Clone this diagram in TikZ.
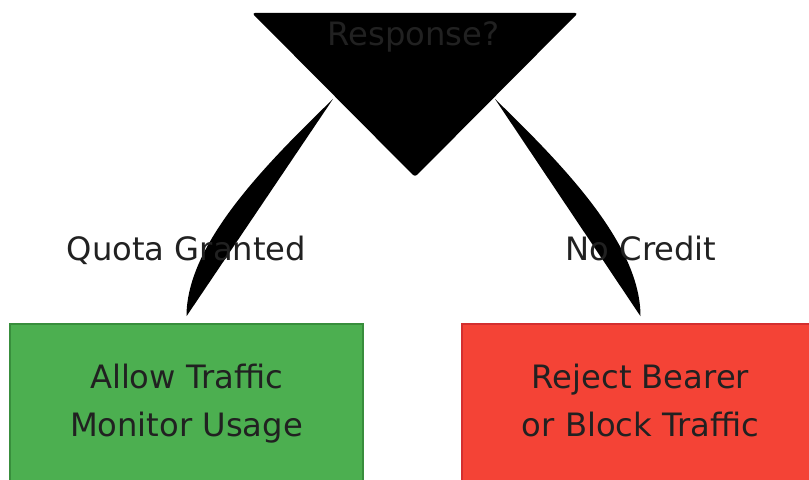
\documentclass[tikz,border=0pt]{standalone}
\usepackage{fontspec}
\setmainfont{DejaVu Sans}
\usetikzlibrary{calc}
\definecolor{texto}{HTML}{212121}
\definecolor{verde}{HTML}{4CAF50}
\definecolor{verdeborde}{HTML}{388E3C}
\definecolor{rojo}{HTML}{F44336}
\definecolor{rojoborde}{HTML}{D32F2F}

\begin{document}
\begin{tikzpicture}[x=0.5pt,y=-0.5pt,
	etiqueta/.style={text=texto, font=\fontsize{16.1}{24}\selectfont, inner sep=0pt},
	caja/.style={rectangle, line width=0.75pt, minimum width=176.5pt, minimum height=80pt, align=center, text=texto, font=\fontsize{16.1}{24}\selectfont}]
		\useasboundingbox (0,0) rectangle (809,480); %marco
		\clip (0,0) rectangle (809,480);
		\node[caja, fill=verde, draw=verdeborde] (allow) at (186.5,404) {Allow Traffic\\Monitor Usage}; %caja verde
		\node[caja, fill=rojo, draw=rojoborde, minimum width=178.5pt] (deny) at (640.5,404) {Reject Bearer\\or Block Traffic\vphantom{g}}; %caja roja
		\coordinate (tl) at (252,13); %vertices del triangulo
		\coordinate (tr) at (578,13);
		\coordinate (tip) at (415,177);
		\coordinate (t1) at (333,99); %salidas de las flechas
		\coordinate (t2) at (495,99);
		\coordinate (b1) at ($(allow.north)+(0,-7)$);
		\coordinate (b2) at ($(deny.north)+(0,-7)$);
		\fill (t1) .. controls +(-68,66) and +(0,-72) .. (b1) -- cycle; %flecha izquierda
		\fill (t2) .. controls +(68,66) and +(0,-72) .. (b2) -- cycle; %flecha derecha
		\fill[rounded corners=1.5] (tl) -- (tr) -- (tip) -- cycle; %decision
		\node[etiqueta, anchor=base] (resp) at (413.5,46) {Response?};
		\node[etiqueta, anchor=base] (si) at (186.5,261) {Quota Granted}; %etiquetas
		\node[etiqueta, anchor=base] (no) at (641,261) {No Credit};
\end{tikzpicture}
\end{document}
